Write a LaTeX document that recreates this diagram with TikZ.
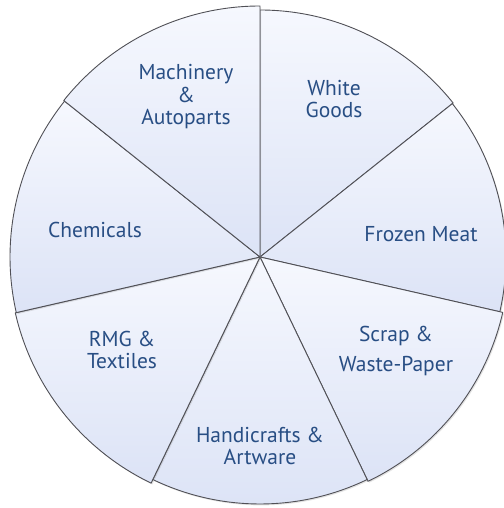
\documentclass[tikz,border=0pt]{standalone}
\usepackage{fontspec}
\setmainfont{PT Sans}
\usetikzlibrary{shadows}
\definecolor{labelblue}{RGB}{40,78,132}
\definecolor{rimgray}{RGB}{80,80,86}
\definecolor{fillhi}{RGB}{246,248,254}
\definecolor{filllo}{RGB}{220,227,246}
\begin{document}
\begin{tikzpicture}[x=1pt,y=1pt,
  wedge/.style={draw=rimgray, line width=0.9pt, line join=round,
    top color=fillhi, bottom color=filllo,
    drop shadow={shadow xshift=1.2pt, shadow yshift=-1.4pt, opacity=0.22}},
  lbl/.style={text=labelblue, font=\fontsize{21.5}{22.5}\selectfont, align=center, inner sep=0pt}]
\useasboundingbox (0,0) rectangle (503,508);
\coordinate (hub) at (260,251);
% seven equal wedges, clockwise from twelve o'clock
\pgfmathsetmacro{\sl}{360/7}
\foreach \k/\r in {0/247, 1/246, 2/249, 3/247, 4/251, 5/250, 6/251}{
  \pgfmathsetmacro{\aa}{90-\k*\sl}
  \pgfmathsetmacro{\ab}{90-(\k+1)*\sl}
  \draw[wedge] (hub) -- ++(\aa:\r) arc[start angle=\aa, end angle=\ab, radius=\r] -- cycle;
}
% labels
\node[lbl] (goods) at (334,409) {White\\Goods};
\node[lbl] (meat) at (421,274) {Frozen Meat};
\node[lbl, font=\fontsize{21.5}{30}\selectfont] (scrap) at (396,157) {Scrap \&\\Waste-Paper};
\node[lbl] (crafts) at (260,62) {Handicrafts \&\\Artware};
\node[lbl] (rmg) at (122,158) {RMG \&\\Textiles};
\node[lbl] (chem) at (95,278) {Chemicals};
\node[lbl] (mach) at (186,411) {Machinery\\\&\\Autoparts};
\end{tikzpicture}
\end{document}
